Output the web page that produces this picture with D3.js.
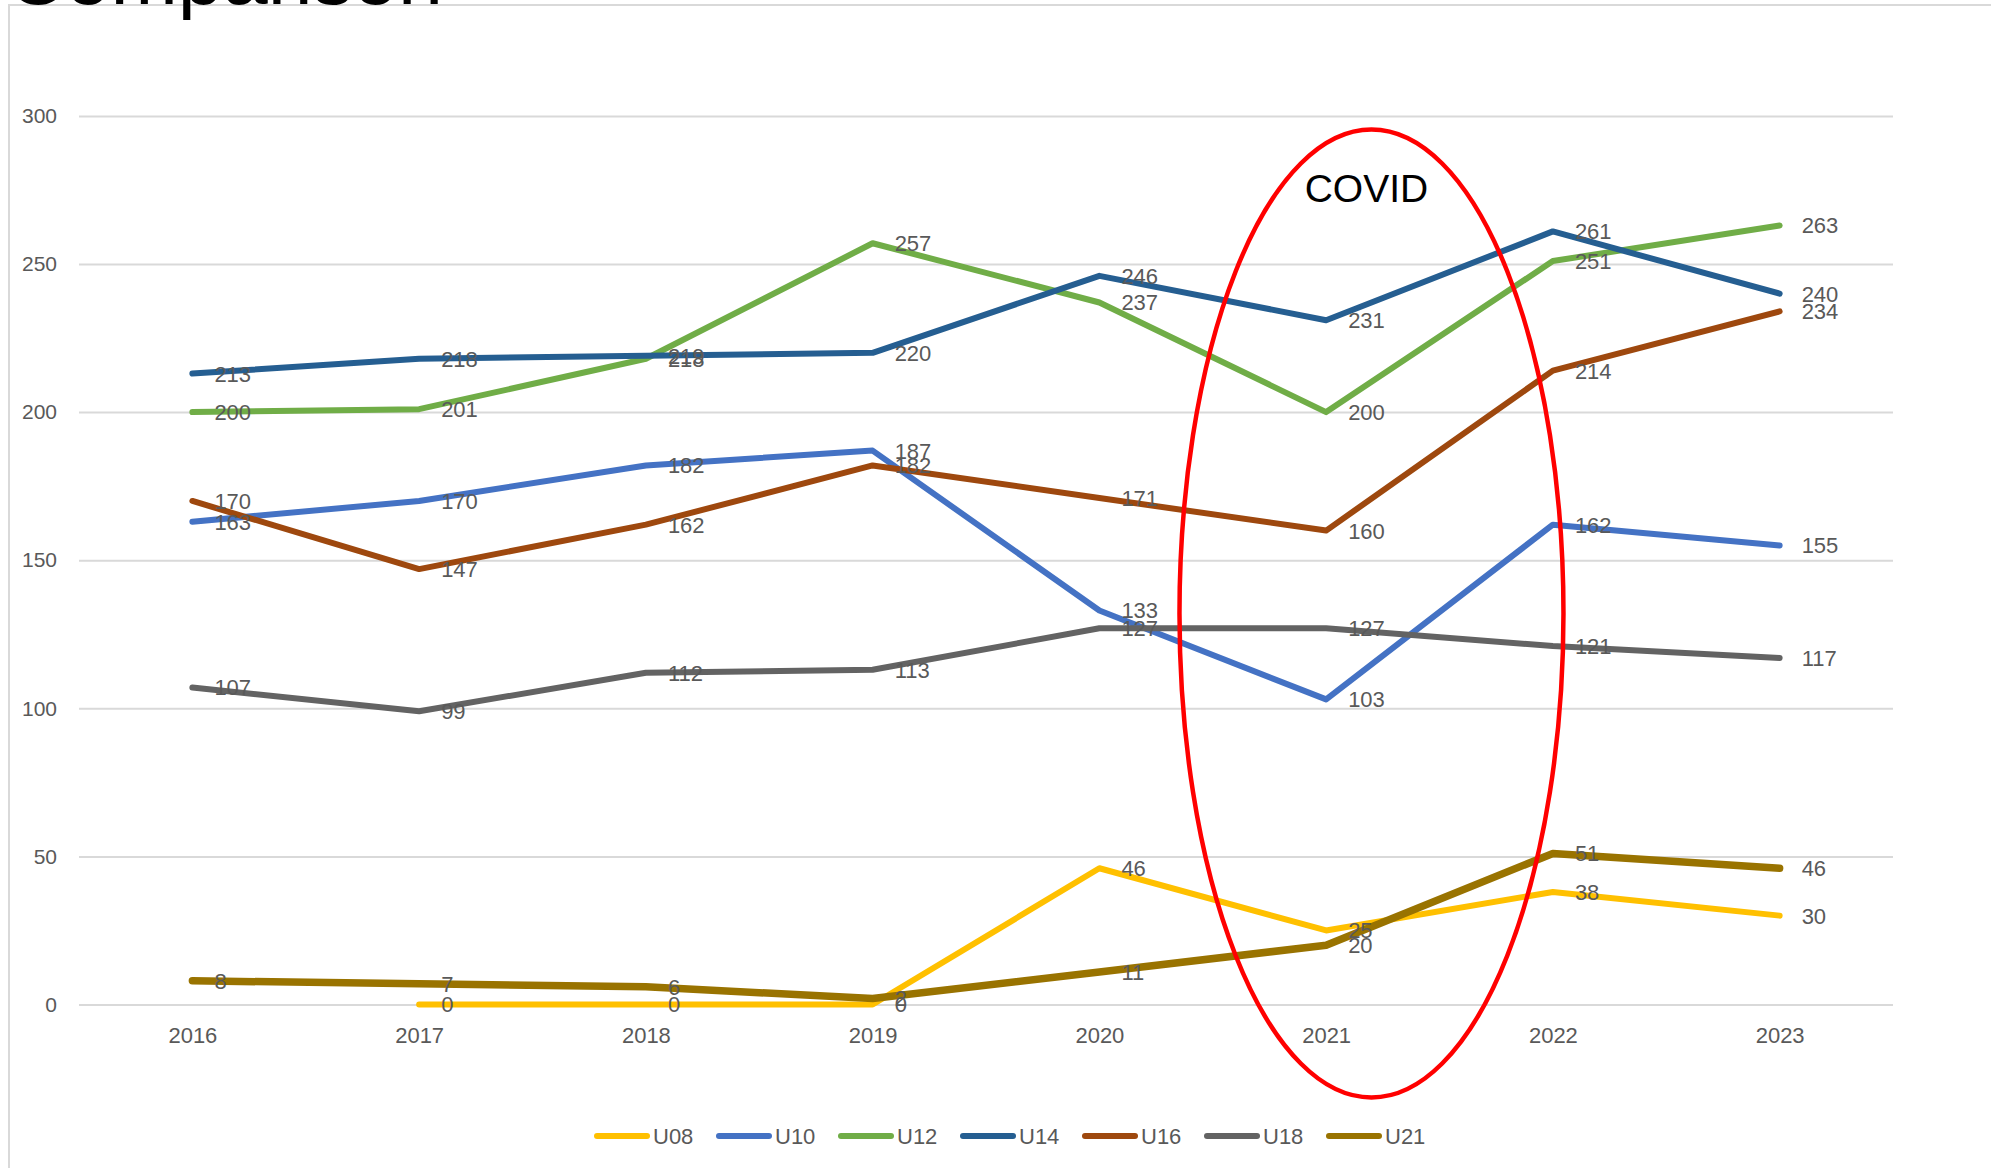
<!DOCTYPE html>
<html>
<head>
<meta charset="utf-8">
<script src="https://cdn.jsdelivr.net/npm/d3@7"></script>
<style>
  html, body { margin: 0; padding: 0; background: #ffffff; }
  svg { display: block; }
</style>
</head>
<body>
<svg id="chart" width="1991" height="1168"></svg>
<script>
// ---- Data ----
const years = ["2016", "2017", "2018", "2019", "2020", "2021", "2022", "2023"];
const seriesNames = ["U08", "U10", "U12", "U14", "U16", "U18", "U21"];
const u08 = [null, 0, 0, 0, 46, 25, 38, 30];
const u10 = [163, 170, 182, 187, 133, 103, 162, 155];
const u12 = [200, 201, 218, 257, 237, 200, 251, 263];
const u14 = [213, 218, 219, 220, 246, 231, 261, 240];
const u16 = [170, 147, 162, 182, 171, 160, 214, 234];
const u18 = [107, 99, 112, 113, 127, 127, 121, 117];
const u21 = [8, 7, 6, 2, 11, 20, 51, 46];
const yTicks = [0, 50, 100, 150, 200, 250, 300];
const titleText = "Comparison";
const noteText = "COVID";
const noteYear = "2021";

const seriesValues = [u08, u10, u12, u14, u16, u18, u21];
const colors = ["#FFC000", "#4472C4", "#70AD47", "#255E91", "#9E480E", "#636363", "#997300"];
const widths = [6, 6, 6, 6, 6, 6, 7.5];

(function () {
const svg = d3.select("#chart");
const labelFont = "'Liberation Sans', Arial, sans-serif";

// chart border
svg.append("rect")
  .attr("x", 9).attr("y", 5).attr("width", 2100).attr("height", 1300)
  .attr("fill", "none").attr("stroke", "#D9D9D9").attr("stroke-width", 2);

// title (cut off at the top)
svg.append("text")
  .attr("x", 7).attr("y", 4)
  .attr("font-family", "'Liberation Sans', Arial, sans-serif")
  .attr("font-size", 76)
  .attr("fill", "#000")
  .attr("textLength", 436)
  .attr("lengthAdjust", "spacingAndGlyphs")
  .text(titleText);

const pLeft = 79, pRight = 1893, pTop = 115.9, pBottom = 1004.5;
const x = d3.scalePoint().domain(years).range([pLeft, pRight]).padding(0.5);
const y = d3.scaleLinear().domain([0, 300]).range([pBottom, pTop]);

// y axis with gridlines
const yAxis = svg.append("g")
  .attr("transform", `translate(${pLeft},0)`)
  .call(d3.axisLeft(y).tickValues(yTicks).tickSize(-(pRight - pLeft)).tickPadding(22));
yAxis.select(".domain").remove();
yAxis.selectAll(".tick line").attr("stroke", "#D9D9D9").attr("stroke-width", 2);
yAxis.selectAll(".tick text")
  .attr("font-family", labelFont).attr("font-size", 21).attr("fill", "#595959");

// x axis
const xAxis = svg.append("g")
  .attr("transform", `translate(0,${pBottom})`)
  .call(d3.axisBottom(x).tickSize(0).tickPadding(23));
xAxis.select(".domain").remove();
xAxis.selectAll(".tick text")
  .attr("font-family", labelFont).attr("font-size", 22).attr("fill", "#595959");

// lines
const line = d3.line()
  .defined(d => d.v !== null)
  .x(d => x(d.year))
  .y(d => y(d.v));

const series = seriesNames.map((name, i) => ({
  name, color: colors[i], width: widths[i],
  points: years.map((yr, j) => ({ year: yr, v: seriesValues[i][j] }))
}));

const g = svg.append("g");
series.forEach(s => {
  g.append("path")
    .datum(s.points)
    .attr("d", line)
    .attr("fill", "none")
    .attr("stroke", s.color)
    .attr("stroke-width", s.width)
    .attr("stroke-linejoin", "round")
    .attr("stroke-linecap", "round");
});

// data labels
series.forEach(s => {
  g.selectAll(null)
    .data(s.points.filter(p => p.v !== null))
    .enter().append("text")
    .attr("x", p => x(p.year) + 22)
    .attr("y", p => y(p.v))
    .attr("dy", "0.36em")
    .attr("font-family", labelFont)
    .attr("font-size", 22)
    .attr("fill", "#595959")
    .text(p => p.v);
});

// COVID ellipse annotation
const cx = x(noteYear) + 0.2 * x.step();
svg.append("ellipse")
  .attr("cx", cx).attr("cy", 613.5)
  .attr("rx", 192).attr("ry", 484)
  .attr("fill", "none").attr("stroke", "#FF0000").attr("stroke-width", 4.5);
svg.append("text")
  .attr("x", cx - 5).attr("y", 202)
  .attr("text-anchor", "middle")
  .attr("font-family", labelFont)
  .attr("font-size", 39)
  .attr("fill", "#000")
  .text(noteText);

// legend
const legend = svg.append("g");
seriesNames.forEach((name, i) => {
  const lx = 597 + i * 122;
  legend.append("line")
    .attr("x1", lx).attr("x2", lx + 50)
    .attr("y1", 1136).attr("y2", 1136)
    .attr("stroke", colors[i]).attr("stroke-width", 6)
    .attr("stroke-linecap", "round");
  legend.append("text")
    .attr("x", lx + 56).attr("y", 1136).attr("dy", "0.36em")
    .attr("font-family", labelFont).attr("font-size", 22)
    .attr("fill", "#595959")
    .text(name);
});
})();
</script>
</body>
</html>
